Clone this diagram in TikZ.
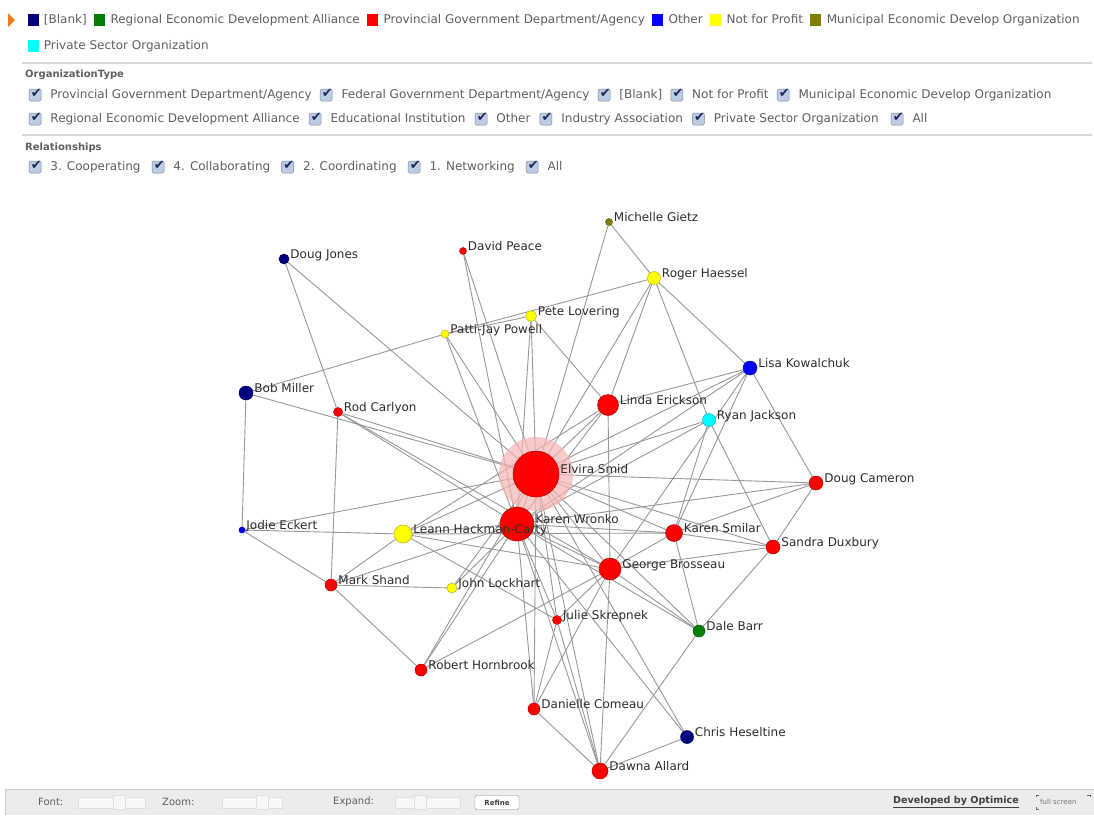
\documentclass[tikz,border=0pt]{standalone}
\usepackage{fontspec}
\setmainfont{DejaVu Sans}
\usetikzlibrary{positioning}
\definecolor{cblank}{RGB}{0,0,128}
\definecolor{cgreen}{RGB}{0,128,0}
\definecolor{cred}{RGB}{255,0,0}
\definecolor{cblue}{RGB}{0,0,255}
\definecolor{cyell}{RGB}{255,255,0}
\definecolor{colive}{RGB}{128,128,0}
\definecolor{ccyan}{RGB}{0,255,255}
\definecolor{edgec}{RGB}{152,152,152}
\definecolor{haloc}{RGB}{246,180,180}
\definecolor{txtc}{RGB}{95,95,95}
\definecolor{labc}{RGB}{45,45,45}
\definecolor{sepc}{RGB}{215,215,215}
\definecolor{cbf}{RGB}{190,204,226}
\definecolor{cbd}{RGB}{120,135,162}
\definecolor{chkc}{RGB}{30,40,90}
\definecolor{barc}{RGB}{236,236,236}
\definecolor{orng}{RGB}{240,120,30}
\pgfdeclarelayer{bg}
\pgfdeclarelayer{edges}
\pgfdeclarelayer{halo}
\pgfsetlayers{bg,edges,halo,main}
\newcommand\gnd[6]{%
  \node[gnode, fill=#4, draw=#4!70!black, minimum size=#5] (#1) at (#2,#3) {};
  \node[glbl, anchor=west] (#1l) at ([xshift=1pt,yshift=3.5pt]#1.east) {#6};}
\begin{document}
\begin{tikzpicture}[x=1pt,y=-1pt,
  gnode/.style={circle, inner sep=0pt, line width=0.5pt},
  glbl/.style={font=\fontsize{12}{14}\selectfont, text=labc, inner sep=0pt, text height=9pt, text depth=2.5pt},
  edge/.style={draw=edgec, line width=0.9pt},
  lsq/.style={minimum width=11pt, minimum height=12pt, inner sep=0pt},
  ltxt/.style={font=\fontsize{12}{14}\selectfont, text=txtc, inner sep=0pt, text height=9pt, text depth=2.5pt},
  hdr/.style={font=\fontsize{10}{12}\selectfont\bfseries, text=txtc, inner sep=0pt, anchor=west},
  cbx/.style={minimum size=12pt, inner sep=0pt, rounded corners=1.5pt, draw=cbd, fill=cbf, line width=0.5pt,
     label={[text=chkc, font=\fontsize{13}{13}\selectfont, xshift=1.2pt, yshift=1.2pt, inner sep=0pt]center:✔}},
  sep/.style={draw=sepc, line width=1.5pt},
  bart/.style={font=\fontsize{10}{12}\selectfont, text=txtc, inner sep=0pt, anchor=west},
  sld/.style={draw=black!12, fill=black!3, line width=0.5pt}
]
\useasboundingbox (0,0) rectangle (1094,815);
\begin{pgfonlayer}{bg}
\fill[white] (0,0) rectangle (1094,815);
\end{pgfonlayer}

% ---------- legend ----------
\fill[orng] (8,13) -- (15,20) -- (8,27) -- cycle;
\node[lsq, fill=cblank] (q1) at (33,20) {};
\node[ltxt, right=5pt of q1] (l1) {[Blank]};
\node[lsq, fill=cgreen, right=7pt of l1] (q2) {};
\node[ltxt, right=5pt of q2] (l2) {Regional Economic Development Alliance};
\node[lsq, fill=cred, right=7pt of l2] (q3) {};
\node[ltxt, right=5pt of q3] (l3) {Provincial Government Department/Agency};
\node[lsq, fill=cblue, right=7pt of l3] (q4) {};
\node[ltxt, right=5pt of q4] (l4) {Other};
\node[lsq, fill=cyell, right=7pt of l4] (q5) {};
\node[ltxt, right=5pt of q5] (l5) {Not for Profit};
\node[lsq, fill=colive, right=7pt of l5] (q6) {};
\node[ltxt, right=5pt of q6] (l6) {Municipal Economic Develop Organization};
\node[lsq, fill=ccyan] (q7) at (33,46) {};
\node[ltxt, right=5pt of q7] (l7) {Private Sector Organization};

\coordinate (s1a) at (22,63); \coordinate (s1b) at (1092,63);
\draw[sep] (s1a) -- (s1b);

% ---------- organization type ----------
\node[hdr] (h1) at (25,75) {OrganizationType};
\node[cbx] (c1) at (35,95) {};
\node[ltxt, right=9pt of c1] (t1) {Provincial Government Department/Agency};
\node[cbx, right=8pt of t1] (c2) {};
\node[ltxt, right=9pt of c2] (t2) {Federal Government Department/Agency};
\node[cbx, right=8pt of t2] (c3) {};
\node[ltxt, right=9pt of c3] (t3) {[Blank]};
\node[cbx, right=8pt of t3] (c4) {};
\node[ltxt, right=9pt of c4] (t4) {Not for Profit};
\node[cbx, right=8pt of t4] (c5) {};
\node[ltxt, right=9pt of c5] (t5) {Municipal Economic Develop Organization};

\node[cbx] (d1) at (35,119) {};
\node[ltxt, right=9pt of d1] (u1) {Regional Economic Development Alliance};
\node[cbx, right=9pt of u1] (d2) {};
\node[ltxt, right=9pt of d2] (u2) {Educational Institution};
\node[cbx, right=9pt of u2] (d3) {};
\node[ltxt, right=9pt of d3] (u3) {Other};
\node[cbx, right=9pt of u3] (d4) {};
\node[ltxt, right=9pt of d4] (u4) {Industry Association};
\node[cbx, right=9pt of u4] (d5) {};
\node[ltxt, right=9pt of d5] (u5) {Private Sector Organization};
\node[cbx, right=12pt of u5] (d6) {};
\node[ltxt, right=9pt of d6] (u6) {All};

\coordinate (s2a) at (22,135); \coordinate (s2b) at (1092,135);
\draw[sep] (s2a) -- (s2b);

% ---------- relationships ----------
\node[hdr] (h2) at (25,148) {Relationships};
\node[cbx] (e1) at (35,167) {};
\node[ltxt, right=9pt of e1] (v1) {3. Cooperating};
\node[cbx, right=11pt of v1] (e2) {};
\node[ltxt, right=9pt of e2] (v2) {4. Collaborating};
\node[cbx, right=11pt of v2] (e3) {};
\node[ltxt, right=9pt of e3] (v3) {2. Coordinating};
\node[cbx, right=11pt of v3] (e4) {};
\node[ltxt, right=9pt of e4] (v4) {1. Networking};
\node[cbx, right=11pt of v4] (e5) {};
\node[ltxt, right=9pt of e5] (v5) {All};

% ---------- graph nodes ----------
\gnd{mg}{609}{222}{colive}{7pt}{Michelle Gietz}
\gnd{dp}{463}{251}{cred}{7pt}{David Peace}
\gnd{dj}{284}{259}{cblank}{10pt}{Doug Jones}
\gnd{rh}{654}{278}{cyell}{13pt}{Roger Haessel}
\gnd{pl}{531}{316}{cyell}{11pt}{Pete Lovering}
\gnd{pp}{445}{334}{cyell}{8pt}{Patti-Jay Powell}
\gnd{lk}{750}{368}{cblue}{14pt}{Lisa Kowalchuk}
\gnd{bm}{246}{393}{cblank}{14pt}{Bob Miller}
\gnd{le}{608}{405}{cred}{21pt}{Linda Erickson}
\gnd{rc}{338}{412}{cred}{9pt}{Rod Carlyon}
\gnd{rj}{709}{420}{ccyan}{13pt}{Ryan Jackson}
\gnd{es}{536}{474}{cred}{46pt}{Elvira Smid}
\gnd{dc}{816}{483}{cred}{14pt}{Doug Cameron}
\gnd{kw}{517}{524}{cred}{34pt}{Karen Wronko}
\gnd{je}{242}{530}{cblue}{6pt}{Jodie Eckert}
\gnd{lh}{403}{534}{cyell}{18pt}{Leann Hackman-Carty}
\gnd{ks}{674}{533}{cred}{17pt}{Karen Smilar}
\gnd{sd}{773}{547}{cred}{14pt}{Sandra Duxbury}
\gnd{gb}{610}{569}{cred}{22pt}{George Brosseau}
\gnd{ms}{331}{585}{cred}{12pt}{Mark Shand}
\gnd{jl}{452}{588}{cyell}{10pt}{John Lockhart}
\gnd{js}{557}{620}{cred}{9pt}{Julie Skrepnek}
\gnd{db}{699}{631}{cgreen}{12pt}{Dale Barr}
\gnd{rb}{421}{670}{cred}{12pt}{Robert Hornbrook}
\gnd{dn}{534}{709}{cred}{12pt}{Danielle Comeau}
\gnd{ch}{687}{737}{cblank}{13pt}{Chris Heseltine}
\gnd{da}{600}{771}{cred}{16pt}{Dawna Allard}

\begin{pgfonlayer}{edges}
\foreach \a/\b in {dj/rc, dj/es, bm/pp, bm/je, bm/es, pp/rh, pp/pl, pp/es, pp/kw,
  dp/es, dp/kw, pl/es, pl/kw, pl/le, mg/rh, mg/es, rh/es, rh/le, rh/lk, rh/rj,
  lk/le, lk/es, lk/ks, lk/dc, lk/gb, lk/kw, rj/es, rj/kw, rj/ks, rj/sd,
  dc/es, dc/sd, dc/ks, dc/kw, le/es, le/kw, le/gb, le/lh,
  rc/es, rc/kw, rc/gb, rc/ms, je/lh, je/es, je/ms, ms/jl, ms/rb, ms/lh, ms/kw,
  lh/es, lh/kw, lh/gb, lh/js, lh/ks, jl/es, jl/kw, rb/es, rb/kw, rb/gb,
  ks/es, ks/gb, ks/sd, ks/db, ks/kw, sd/es, sd/gb, sd/db, gb/es, gb/kw, gb/db,
  gb/dn, gb/da, gb/js, kw/db, es/db, ch/es, ch/kw, ch/da, da/kw, da/es, da/dn,
  da/js, da/db, dn/es, dn/kw, dn/js, js/es, js/kw, es/kw}
  \draw[edge] (\a) -- (\b);
\end{pgfonlayer}
\begin{pgfonlayer}{halo}
\fill[haloc, opacity=0.7] (es.center) circle (37);
\end{pgfonlayer}

% ---------- bottom bar ----------
\fill[barc] (5,789) rectangle (1094,815);
\coordinate (b1) at (5,815); \coordinate (b2) at (5,789); \coordinate (b3) at (1094,789);
\draw[black!20, line width=0.8pt] (b1) -- (b2) -- (b3);
\node[bart] (fo) at (38,802) {Font:};
\draw[sld] (78,797) rectangle (145,808);
\draw[sld] (113,795.5) rectangle (125,809.5);
\node[bart] (zo) at (162,802) {Zoom:};
\draw[sld] (222,797) rectangle (282,808);
\draw[sld] (256,795.5) rectangle (268,809.5);
\node[bart] (ex) at (333,802) {Expand:};
\draw[sld] (395,797) rectangle (460,808);
\draw[sld] (414,795.5) rectangle (426,809.5);
\node[draw=black!45, fill=white, rounded corners=2pt, minimum width=44pt, minimum height=14pt, inner sep=0pt,
  font=\fontsize{7}{8}\selectfont\bfseries, text=black!75] (rf) at (497,802.5) {Refine};
\node[bart, font=\fontsize{9.6}{12}\selectfont\bfseries, text=black!75] (dev) at (893,802) {\underline{Developed by Optimice}};
\node[bart, font=\fontsize{7}{8}\selectfont, text=black!55] (fs) at (1040,802) {full screen};
\draw[black!60, line width=0.8pt] (1036,797) -- (1036,795) -- (1039,795);
\draw[black!60, line width=0.8pt] (1036,807) -- (1036,809) -- (1039,809);
\draw[black!60, line width=0.8pt] (1090,797) -- (1090,795) -- (1087,795);
\end{tikzpicture}
\end{document}
